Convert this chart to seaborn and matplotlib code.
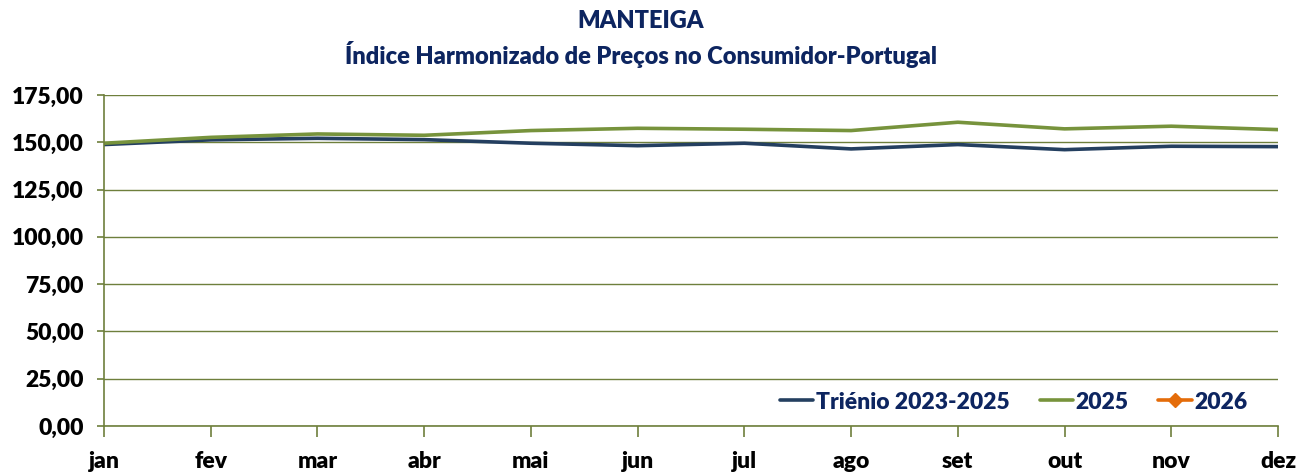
import matplotlib
matplotlib.use("Agg")
import matplotlib.pyplot as plt
import seaborn as sns
import pandas as pd
import numpy as np

months = ["jan", "fev", "mar", "abr", "mai", "jun", "jul", "ago", "set", "out", "nov", "dez"]
trienio = [148.8, 151.3, 152.1, 151.4, 149.5, 148.2, 149.5, 146.5, 148.8, 146.1, 147.9, 147.7]
y2025 = [149.5, 152.6, 154.4, 153.7, 156.2, 157.4, 156.9, 156.2, 160.6, 157.1, 158.5, 156.7]
y2026 = [np.nan] * 12
yticks = [0, 25, 50, 75, 100, 125, 150, 175]
ytick_labels = ["0,00", "25,00", "50,00", "75,00", "100,00", "125,00", "150,00", "175,00"]

sns.set_theme(style="white")
plt.rcParams['font.family'] = ['Lato', 'DejaVu Sans']
W = "heavy"

navy = "#243F60"
green = "#77933C"
orange = "#E46C0A"
axis_col = "#6E7F3C"
text_col = "#0D2560"

df = pd.DataFrame({
    "mes": months * 3,
    "x": list(range(12)) * 3,
    "valor": trienio + y2025 + y2026,
    "serie": ["Triénio 2023-2025"] * 12 + ["2025"] * 12 + ["2026"] * 12,
})

fig = plt.figure(figsize=(13.06, 4.73), dpi=100)
ax = fig.add_axes([104 / 1306, 1 - 426 / 473, (1278 - 104) / 1306, (426 - 95) / 473])

sns.lineplot(data=df[df.serie == "Triénio 2023-2025"], x="x", y="valor", color=navy,
             linewidth=2.6, ax=ax, label="Triénio 2023-2025")
sns.lineplot(data=df[df.serie == "2025"], x="x", y="valor", color=green,
             linewidth=2.6, ax=ax, label="2025")
ax.plot([], [], color=orange, linewidth=2.6, marker="D", markersize=7, label="2026")

ax.set_xlim(0, 11)
ax.set_ylim(0, 175)
ax.set_yticks(yticks)
ax.set_yticklabels(ytick_labels)
ax.set_xticks(range(12))
ax.set_xticklabels(months)
ax.set_xlabel("")
ax.set_ylabel("")

ax.grid(axis="y", color=axis_col, linewidth=1.0)
ax.grid(axis="x", visible=False)
ax.set_axisbelow(True)
for s in ["top", "right"]:
    ax.spines[s].set_visible(False)
for s in ["left", "bottom"]:
    ax.spines[s].set_color(axis_col)
    ax.spines[s].set_linewidth(1.2)

ax.tick_params(axis="y", which="both", left=True, length=5, color=axis_col, width=1.2,
               labelsize=16.5, pad=9.5, labelcolor="black")
ax.tick_params(axis="x", which="both", bottom=True, length=8, color=axis_col, width=1.2,
               labelsize=16.5, pad=10, labelcolor="black")
for lbl in ax.get_yticklabels() + ax.get_xticklabels():
    lbl.set_fontweight(W)

leg = ax.legend(loc="center right", bbox_to_anchor=(0.974, 0.0725), ncol=3, frameon=False,
                handlelength=1.45, handletextpad=0.12, columnspacing=1.3, borderpad=0,
                borderaxespad=0, prop={"weight": W, "size": 16.5})
for t in leg.get_texts():
    t.set_color(text_col)

cx = 641 / 1306
fig.text(cx, 1 - 21 / 473, "MANTEIGA", ha="center", va="center",
         fontsize=17, fontweight=W, color=text_col)
fig.text(cx, 1 - 55 / 473, "Índice Harmonizado de Preços no Consumidor-Portugal",
         ha="center", va="center", fontsize=17, fontweight=W, color=text_col)

fig.savefig("out.png", dpi=100)
